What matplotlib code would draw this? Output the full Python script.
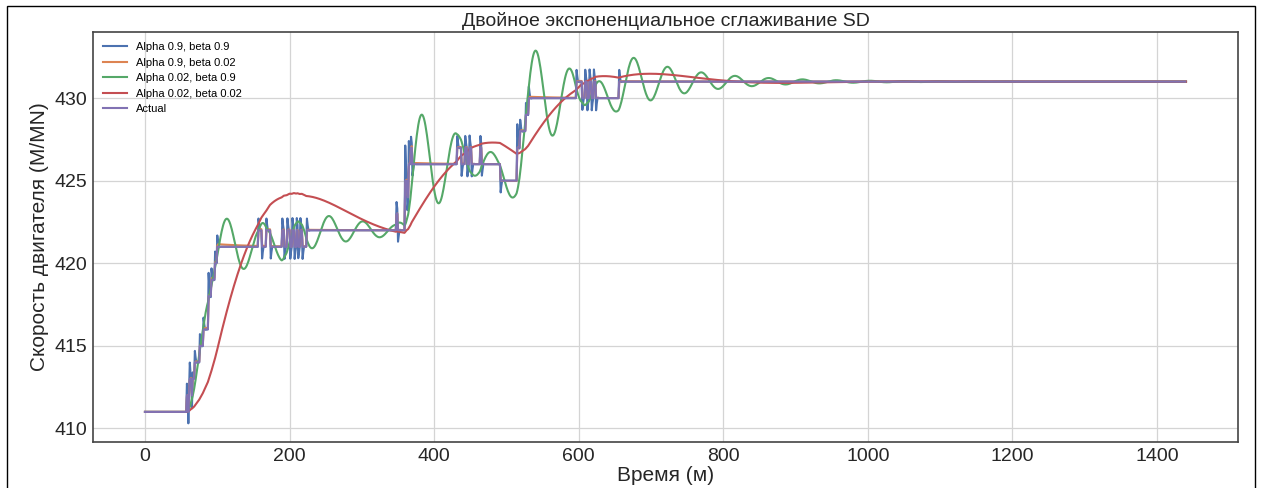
import numpy as np
import matplotlib
matplotlib.use("Agg")
import matplotlib.pyplot as plt
from matplotlib.patches import Rectangle

# engine speed readings: (minute where the value changes, new value)
change_minutes = [0, 58, 60, 61, 62, 65, 66, 69, 76, 81, 88, 92, 97, 100,
                  157, 162, 168, 174, 190, 193, 197, 201, 204, 207, 210, 212, 215, 218, 224,
                  348, 350, 360, 363, 365, 368, 370,
                  432, 438, 443, 446, 449, 452, 464, 466, 492,
                  515, 519, 527, 531,
                  597, 605, 609, 612, 615, 618, 621, 624, 656]
change_values = [411, 412, 411, 412, 413, 412, 413, 414, 415, 416, 418, 419, 420, 421,
                 422, 421, 422, 421, 422, 421, 422, 421, 422, 421, 422, 421, 422, 421, 422,
                 423, 422, 425, 424, 426, 427, 426,
                 427, 426, 427, 426, 427, 426, 427, 426, 425,
                 427, 428, 429, 430,
                 431, 430, 431, 430, 431, 430, 431, 430, 431]
n_minutes = 1440

params = [(0.9, 0.9), (0.9, 0.02), (0.02, 0.9), (0.02, 0.02)]
colors = ["#4C72B0", "#DD8452", "#55A868", "#C44E52", "#8172B3"]

# step series from change points
idx = np.searchsorted(change_minutes, np.arange(n_minutes), side="right") - 1
actual = np.array(change_values, dtype=float)[idx]


def double_exponential_smoothing(series, alpha, beta):
    result = [series[0]]
    level, trend = series[0], series[1] - series[0]
    for n in range(1, len(series) + 1):
        value = result[-1] if n >= len(series) else series[n]
        last_level, level = level, alpha * value + (1 - alpha) * (level + trend)
        trend = beta * (level - last_level) + (1 - beta) * trend
        result.append(level + trend)
    return result


plt.rcParams['font.family'] = ['Liberation Sans', 'DejaVu Sans']
fig = plt.figure(figsize=(12.61, 4.88), dpi=100)
ax = fig.add_axes([0.0737, 0.0943, 0.9081, 0.8401])

for i, (a, b) in enumerate(params):
    ax.plot(double_exponential_smoothing(actual, a, b), color=colors[i], lw=1.5,
            label=f"Alpha {a}, beta {b}")
ax.plot(actual, color=colors[4], lw=1.5, label="Actual")

ax.set_title("Двойное экспоненциальное сглаживание SD", fontsize=14, color="#262626", pad=4)
ax.set_xlabel("Время (м)", fontsize=15, color="#262626", labelpad=1)
ax.set_ylabel("Скорость двигателя (M/MN)", fontsize=15, color="#262626", labelpad=4)
ax.tick_params(labelsize=14, length=0, colors="#262626", pad=4)
ax.grid(True, color="#d4d4d4", lw=0.9)
for s in ax.spines.values():
    s.set_color("#444444")
    s.set_linewidth(1.2)
ax.legend(loc="upper left", fontsize=8, frameon=False, handlelength=2.2)

fig.patches.append(Rectangle((7 / 1261, -0.01), 1248 / 1261, 1.0 - 6 / 488 + 0.01,
                             transform=fig.transFigure, fill=False, ec="black", lw=1))

fig.savefig("out.png", dpi=100)
